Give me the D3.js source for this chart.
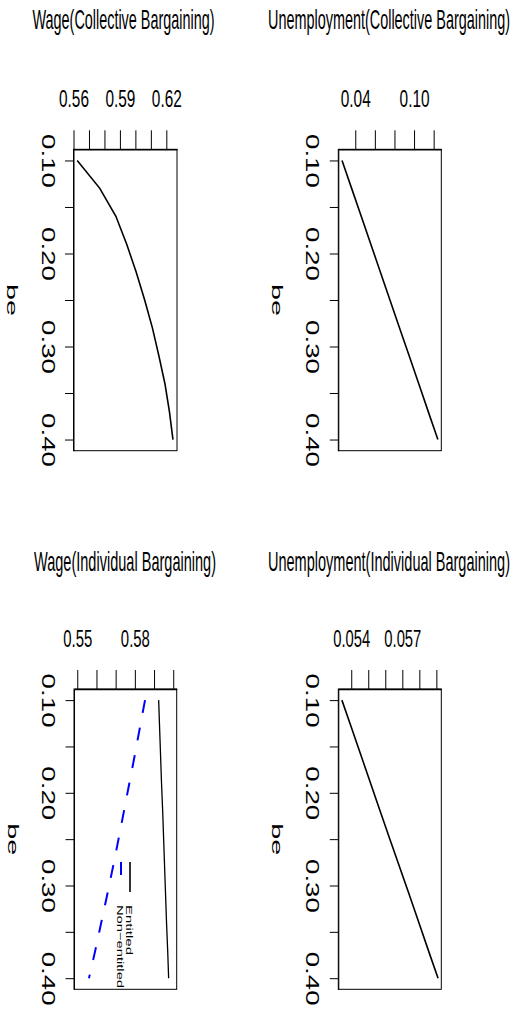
<!DOCTYPE html>
<html>
<head>
<meta charset="utf-8">
<script src="https://cdn.jsdelivr.net/npm/d3@7"></script>
<style>
  body { margin: 0; background: #fff; }
  svg { display: block; }
</style>
</head>
<body>
<div id="chart"></div>
<script>
// ---- data ----
const beValues = [0.10, 0.13, 0.16, 0.19, 0.22, 0.25, 0.28, 0.31, 0.34, 0.37, 0.40];

const wageCollective = [0.5624, 0.5770, 0.5874, 0.5944, 0.6005, 0.6060, 0.6110, 0.6152, 0.6191, 0.6220, 0.6243];
const unempCollective = [0.0265, 0.0363, 0.0461, 0.0559, 0.0656, 0.0754, 0.0852, 0.0950, 0.1048, 0.1145, 0.1243];
const wageEntitled = [0.5924, 0.5929, 0.5934, 0.5939, 0.5945, 0.5950, 0.5955, 0.5960, 0.5965, 0.5971, 0.5976];
const wageNonEntitled = [0.5853, 0.5826, 0.5799, 0.5771, 0.5743, 0.5715, 0.5686, 0.5656, 0.5625, 0.5594, 0.5561];
const unempIndividual = [0.05345, 0.05402, 0.05458, 0.05514, 0.05570, 0.05627, 0.05684, 0.05741, 0.05797, 0.05853, 0.05910];

const titles = ["Wage(Collective Bargaining)", "Unemployment(Collective Bargaining)",
                "Wage(Individual Bargaining)", "Unemployment(Individual Bargaining)"];

// axis limits and ticks (value axis on top)
const wageCollLim = [0.5600, 0.6269];
const wageCollTicks = [0.56, 0.57, 0.58, 0.59, 0.60, 0.61, 0.62];
const wageCollLabels = ["0.56", "0.59", "0.62"];

const unempCollLim = [0.0227, 0.1278];
const unempCollTicks = [0.04, 0.06, 0.08, 0.10, 0.12];
const unempCollLabels = ["0.04", "0.10"];

const wageIndLim = [0.5483, 0.6018];
const wageIndTicks = [0.55, 0.56, 0.57, 0.58, 0.59, 0.60];
const wageIndLabels = ["0.55", "0.58"];

const unempIndLim = [0.05324, 0.05929];
const unempIndTicks = [0.054, 0.055, 0.056, 0.057, 0.058, 0.059];
const unempIndLabels = ["0.054", "0.057"];

// be axis (left)
const beLim = [0.088, 0.412];
const beTicks = [0.10, 0.15, 0.20, 0.25, 0.30, 0.35, 0.40];
const beLabels = ["0.10", "0.20", "0.30", "0.40"];

const legendNames = ["Entitled", "Non\u2212entitled"];

// ---- layout ----
const W = 516, H = 1014;
const FONT = "'Liberation Sans', Arial, sans-serif";

const svg = d3.select("#chart").append("svg")
    .attr("width", W)
    .attr("height", H);

const panels = [
    {left: 73.5, right: 177, top: 149.3, bottom: 450.7, titleX: 123.5, titleY: 29.3, titleLen: 182,
     title: titles[0], lim: wageCollLim, ticks: wageCollTicks, labels: wageCollLabels, fmt: ".2f", labLen: 30,
     series: [{values: wageCollective, color: "#000", width: 1.6, dash: null}]},
    {left: 338.3, right: 441.3, top: 149.3, bottom: 450.7, titleX: 389, titleY: 29.3, titleLen: 242,
     title: titles[1], lim: unempCollLim, ticks: unempCollTicks, labels: unempCollLabels, fmt: ".2f", labLen: 30,
     series: [{values: unempCollective, color: "#000", width: 1.6, dash: null}]},
    {left: 74, right: 176.7, top: 689, bottom: 989.3, titleX: 125, titleY: 570.7, titleLen: 182,
     title: titles[2], lim: wageIndLim, ticks: wageIndTicks, labels: wageIndLabels, fmt: ".2f", labLen: 29,
     series: [{values: wageEntitled, color: "#000", width: 1.3, dash: null},
              {values: wageNonEntitled, color: "#0000ff", width: 2, dash: "13,15"}],
     legend: true},
    {left: 338.3, right: 441.3, top: 689, bottom: 989.3, titleX: 389, titleY: 570.7, titleLen: 242,
     title: titles[3], lim: unempIndLim, ticks: unempIndTicks, labels: unempIndLabels, fmt: ".3f", labLen: 37,
     series: [{values: unempIndividual, color: "#000", width: 1.6, dash: null}]}
];

panels.forEach(drawPanel);

function drawPanel(p) {
    const x = d3.scaleLinear().domain(p.lim).range([p.left, p.right]);
    const y = d3.scaleLinear().domain(beLim).range([p.top, p.bottom]);

    // title
    svg.append("text")
        .attr("x", p.titleX)
        .attr("y", p.titleY)
        .attr("text-anchor", "middle")
        .attr("font-family", FONT)
        .attr("font-size", 28)
        .attr("textLength", p.titleLen)
        .attr("lengthAdjust", "spacingAndGlyphs")
        .text(p.title);

    // box
    svg.append("rect")
        .attr("x", p.left)
        .attr("y", p.top)
        .attr("width", p.right - p.left)
        .attr("height", p.bottom - p.top)
        .attr("fill", "none")
        .attr("stroke", "#000")
        .attr("stroke-width", 1);

    // top axis (values)
    const fmt = d3.format(p.fmt);
    const gx = svg.append("g")
        .attr("transform", `translate(0,${p.top})`)
        .call(d3.axisTop(x)
            .tickValues(p.ticks)
            .tickSize(19)
            .tickSizeOuter(0)
            .tickPadding(23)
            .tickFormat(d => p.labels.includes(fmt(d)) ? fmt(d) : ""));
    gx.attr("font-family", FONT).attr("font-size", 23);
    gx.select(".domain").attr("stroke-width", 1.6);
    gx.selectAll(".tick line").attr("stroke-width", 1);
    gx.selectAll(".tick text")
        .attr("fill", "#000")
        .filter(function() { return this.textContent !== ""; })
        .attr("textLength", p.labLen)
        .attr("lengthAdjust", "spacingAndGlyphs");

    // left axis (be)
    const bfmt = d3.format(".2f");
    const gy = svg.append("g")
        .attr("transform", `translate(${p.left},0)`)
        .call(d3.axisLeft(y)
            .tickValues(beTicks)
            .tickSize(8.5)
            .tickSizeOuter(0)
            .tickFormat(d => beLabels.includes(bfmt(d)) ? bfmt(d) : ""));
    gy.attr("font-family", FONT).attr("font-size", 18);
    gy.select(".domain").attr("stroke-width", 1);
    gy.selectAll(".tick text")
        .attr("fill", "#000")
        .attr("x", 0)
        .attr("dy", null)
        .attr("text-anchor", "middle")
        .attr("transform", "translate(-32,0) rotate(90)")
        .filter(function() { return this.textContent !== ""; })
        .attr("textLength", 54)
        .attr("lengthAdjust", "spacingAndGlyphs");

    // be label
    const beX = p.left - 66.5;
    svg.append("text")
        .attr("transform", `translate(${beX},${(p.top + p.bottom) / 2}) rotate(90)`)
        .attr("text-anchor", "middle")
        .attr("font-family", FONT)
        .attr("font-size", 15)
        .attr("textLength", 32)
        .attr("lengthAdjust", "spacingAndGlyphs")
        .text("be");

    // series
    const line = d3.line()
        .x(d => x(d.v))
        .y(d => y(d.be));
    p.series.forEach(s => {
        const pts = beValues.map((b, i) => ({be: b, v: s.values[i]}));
        svg.append("path")
            .datum(pts)
            .attr("d", line)
            .attr("fill", "none")
            .attr("stroke", s.color)
            .attr("stroke-width", s.width)
            .attr("stroke-dasharray", s.dash);
    });

    // legend (rotated, inside bottom-left panel)
    if (p.legend) {
        const lg = svg.append("g").attr("transform", "translate(130,862)");
        lg.append("line")
            .attr("x1", 0).attr("x2", 0)
            .attr("y1", 0).attr("y2", 30)
            .attr("stroke", "#000").attr("stroke-width", 1.6);
        lg.append("line")
            .attr("x1", -9).attr("x2", -9)
            .attr("y1", 0).attr("y2", 30)
            .attr("stroke", "#0000ff").attr("stroke-width", 2)
            .attr("stroke-dasharray", "13,17");
        const legLens = [50, 83];
        legendNames.forEach((name, i) => {
            lg.append("text")
                .attr("transform", `translate(${-4 - i * 8.7},43) rotate(90)`)
                .attr("font-family", FONT)
                .attr("font-size", 9.5)
                .attr("textLength", legLens[i])
                .attr("lengthAdjust", "spacingAndGlyphs")
                .text(name);
        });
    }
}
</script>
</body>
</html>
